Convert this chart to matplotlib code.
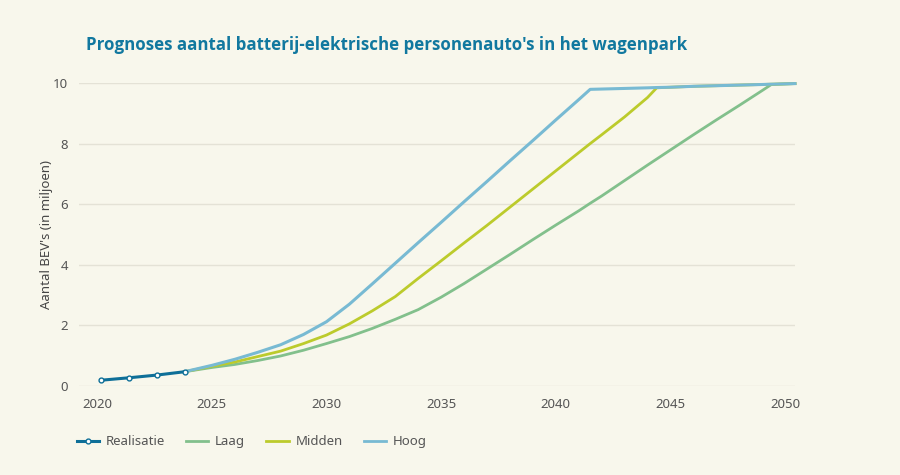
import matplotlib
matplotlib.use('Agg')
import matplotlib.pyplot as plt
from matplotlib.lines import Line2D

# realisatie (gemeten)
real_years = [2020.17, 2021.38, 2022.6, 2023.81]
real_values = [0.19, 0.27, 0.36, 0.47]

# prognoses
prog_years = [2023.81, 2025, 2026, 2027, 2028, 2029, 2030, 2031, 2032, 2033,
              2034, 2035, 2036, 2037, 2038, 2039, 2040, 2041, 2041.5, 2042,
              2043, 2044, 2044.4, 2045, 2046, 2047, 2048, 2049, 2049.4, 2050.43]
laag = [0.47, 0.61, 0.71, 0.84, 0.99, 1.18, 1.40, 1.63, 1.90, 2.20,
        2.52, 2.93, 3.38, 3.86, 4.34, 4.83, 5.31, 5.78, 6.03, 6.27,
        6.78, 7.29, 7.49, 7.79, 8.29, 8.78, 9.26, 9.75, 9.95, 9.98]
midden = [0.47, 0.65, 0.79, 0.97, 1.15, 1.40, 1.68, 2.05, 2.48, 2.95,
          3.55, 4.13, 4.72, 5.30, 5.90, 6.50, 7.10, 7.70, 8.00, 8.29,
          8.88, 9.52, 9.84, 9.86, 9.89, 9.91, 9.93, 9.95, 9.96, 9.98]
hoog = [0.47, 0.68, 0.88, 1.11, 1.36, 1.70, 2.12, 2.70, 3.37, 4.05,
        4.73, 5.40, 6.08, 6.75, 7.43, 8.10, 8.78, 9.45, 9.79, 9.80,
        9.82, 9.84, 9.85, 9.86, 9.89, 9.91, 9.93, 9.95, 9.96, 9.98]

x_ticks = [2020, 2025, 2030, 2035, 2040, 2045, 2050]
y_ticks = [0, 2, 4, 6, 8, 10]

bg = '#f8f7ec'
c_real = '#0e6f98'
c_laag = '#82c08c'
c_midden = '#bccb2c'
c_hoog = '#78bad3'
txt = '#555555'

plt.rcParams['font.family'] = ['Noto Sans', 'DejaVu Sans']

fig = plt.figure(figsize=(9, 4.75), dpi=100, facecolor=bg)
ax = fig.add_axes([0.0878, 0.1874, 0.7955, 0.6379], facecolor=bg)

ax.plot(prog_years, laag, color=c_laag, lw=2, clip_on=False, zorder=3)
ax.plot(prog_years, midden, color=c_midden, lw=2, clip_on=False, zorder=4)
ax.plot(prog_years, hoog, color=c_hoog, lw=2.2, clip_on=False, zorder=5)
ax.plot(real_years, real_values, color=c_real, lw=2.2, marker='o', ms=3.5,
        mfc='white', mec=c_real, mew=1, clip_on=False, zorder=6)

ax.set_xlim(2019.21, 2050.43)
ax.set_ylim(0, 10)
ax.set_xticks(x_ticks)
ax.set_yticks(y_ticks)
ax.grid(axis='y', color='#e4e2d6', lw=1)
ax.set_axisbelow(True)
for s in ax.spines.values():
    s.set_visible(False)
ax.tick_params(length=0, labelsize=9.5, colors=txt)
ax.tick_params(axis='x', pad=9)
ax.tick_params(axis='y', pad=8)
ax.set_ylabel("Aantal BEV's (in miljoen)", fontsize=9.5, color='#444444', labelpad=0)

fig.text(0.095, 0.905, "Prognoses aantal batterij-elektrische personenauto's in het wagenpark",
         fontsize=12.2, fontweight='bold', color='#11789f', ha='left', va='center',
         family=['Open Sans', 'DejaVu Sans'])

handles = [
    Line2D([], [], color=c_real, lw=2.2, marker='o', ms=3.5, mfc='white', mec=c_real, mew=1),
    Line2D([], [], color=c_laag, lw=2),
    Line2D([], [], color=c_midden, lw=2),
    Line2D([], [], color=c_hoog, lw=2),
]
fig.legend(handles, ['Realisatie', 'Laag', 'Midden', 'Hoog'], loc='center left',
           bbox_to_anchor=(0.072, 0.07), ncol=4, frameon=False, fontsize=9.5,
           handlelength=1.7, handletextpad=0.5, columnspacing=1.6, labelcolor=txt)

fig.savefig('out.png', dpi=100, facecolor=bg)
